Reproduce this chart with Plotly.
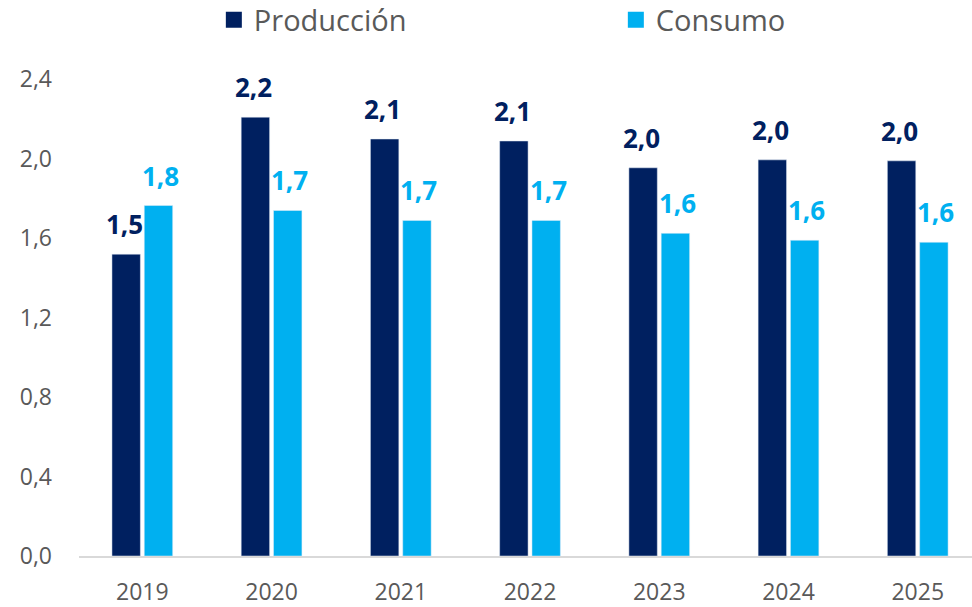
import plotly.graph_objects as go

years = ["2019", "2020", "2021", "2022", "2023", "2024", "2025"]
produccion = [1.52, 2.21, 2.10, 2.09, 1.955, 1.995, 1.99]
consumo = [1.765, 1.74, 1.69, 1.69, 1.625, 1.59, 1.58]
y_ticks = [0.0, 0.4, 0.8, 1.2, 1.6, 2.0, 2.4]
y_tick_labels = ["0,0", "0,4", "0,8", "1,2", "1,6", "2,0", "2,4"]

c_prod = "#002060"
c_cons = "#00B0F0"
font_family = "'Open Sans', Lato, sans-serif"

fig = go.Figure()
fig.add_trace(go.Bar(x=years, y=produccion, name="Producción", marker_color=c_prod,
                     showlegend=False))
fig.add_trace(go.Bar(x=years, y=consumo, name="Consumo", marker_color=c_cons,
                     showlegend=False))
# legend entries
fig.add_trace(go.Scatter(x=[None], y=[None], mode="markers", name="Producción",
                         marker=dict(symbol="square", size=16, color=c_prod)))
fig.add_trace(go.Scatter(x=[None], y=[None], mode="markers", name="Consumo",
                         marker=dict(symbol="square", size=16, color=c_cons)))

def fmt(v):
    return f"{v:.1f}".replace(".", ",")

annotations = []
for i, v in enumerate(produccion):
    annotations.append(dict(x=i, y=v, xref="x", yref="y", text=fmt(v), showarrow=False,
                            xshift=-18, yanchor="bottom", yshift=10,
                            font=dict(family=font_family, size=26, color=c_prod, weight="bold")))
for i, v in enumerate(consumo):
    annotations.append(dict(x=i, y=v, xref="x", yref="y", text=fmt(v), showarrow=False,
                            xshift=18, yanchor="bottom", yshift=10,
                            font=dict(family=font_family, size=26, color=c_cons, weight="bold")))

fig.update_layout(
    width=972, height=607,
    margin=dict(l=79, r=0, t=0, b=51, autoexpand=False),
    paper_bgcolor="white", plot_bgcolor="white",
    barmode="group", bargap=0.5, bargroupgap=0.12,
    font=dict(family=font_family, color="#595959"),
    annotations=annotations,
    legend=dict(orientation="h", x=0.151, xanchor="left", y=1.01, yanchor="top",
                font=dict(size=29, color="#595959", family=font_family),
                entrywidth=357, itemwidth=30, bgcolor="rgba(0,0,0,0)"),
    showlegend=True,
)
fig.update_xaxes(type="category", showline=True, linecolor="#D9D9D9", linewidth=2, ticks="",
                 tickfont=dict(size=23, color="#595959"), range=[-0.49, 6.42],
                 showgrid=False, automargin=False, ticklabelstandoff=14)
fig.update_yaxes(range=[0, 2.8], tickvals=y_ticks, ticktext=y_tick_labels,
                 showgrid=False, zeroline=False, showline=False, automargin=False,
                 tickfont=dict(size=23, color="#595959"), ticklabelstandoff=26)

fig.write_html("out.html", config={"displayModeBar": False},
               post_script="document.body.style.margin='0';")
